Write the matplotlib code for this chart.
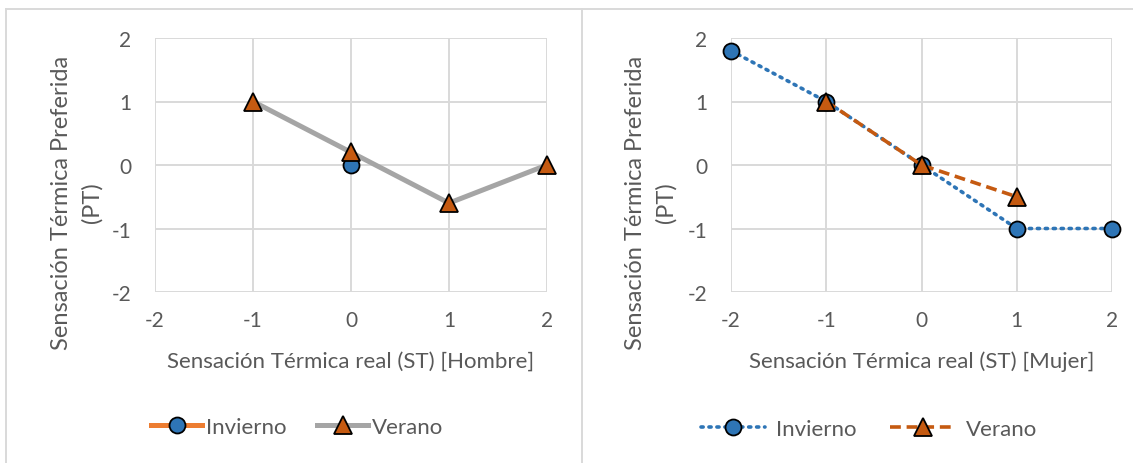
import matplotlib
matplotlib.use("Agg")
import matplotlib.pyplot as plt
from matplotlib.lines import Line2D

plt.rcParams['font.family'] = ['Lato', 'DejaVu Sans']
plt.rcParams['axes.unicode_minus'] = False

# Data
ticks = [-2, -1, 0, 1, 2]
hombre_invierno_x = [0]
hombre_invierno_y = [0]
hombre_verano_x = [-1, 0, 1, 2]
hombre_verano_y = [1, 0.2, -0.6, 0]
mujer_invierno_x = [-2, -1, 0, 1, 2]
mujer_invierno_y = [1.8, 1, 0, -1, -1]
mujer_verano_x = [-1, 0, 1]
mujer_verano_y = [1, 0, -0.5]

BLUE = '#2E75B6'
ORANGE = '#ED7D31'
DARK_ORANGE = '#C55A11'
GRAY = '#A5A5A5'
GRID = '#D9D9D9'
TEXT = '#595959'

W, H = 1133, 464
fig = plt.figure(figsize=(W / 100, H / 100), dpi=100)


def px_axes(x0, y0, x1, y1):
    return fig.add_axes([x0 / W, 1 - y1 / H, (x1 - x0) / W, (y1 - y0) / H])


# chart frames: top edge, outer left edge and the divider between panels
frame_kw = dict(transform=fig.transFigure, color=GRID, linewidth=1.4)
fig.add_artist(Line2D([6 / W, 1132 / W], [1 - 10 / H] * 2, **frame_kw))
fig.add_artist(Line2D([6 / W] * 2, [0, 1 - 10 / H], **frame_kw))
fig.add_artist(Line2D([582 / W] * 2, [0, 1 - 10 / H], **frame_kw))


def style(ax, xlabel, ylab_x):
    ax.set_xlim(-2, 2)
    ax.set_ylim(-2, 2)
    ax.set_xticks(ticks)
    ax.set_yticks(ticks)
    ax.grid(True, color=GRID, linewidth=1.4)
    ax.set_axisbelow(True)
    for s in ax.spines.values():
        s.set_visible(False)
    ax.tick_params(length=0, labelsize=15, colors=TEXT)
    ax.tick_params(axis='x', pad=13)
    ax.tick_params(axis='y', pad=17)
    ax.set_xlabel(xlabel, fontsize=16, color=TEXT, labelpad=15)
    ax.set_ylabel('Sensación Térmica Preferida\n(PT)', fontsize=17,
                  color=TEXT, linespacing=1.55)
    ax.yaxis.label.set_verticalalignment('center')
    ax.yaxis.set_label_coords(ylab_x, 0.355)
    for lab in ax.get_xticklabels() + ax.get_yticklabels():
        lab.set_clip_on(False)


mk_circle = dict(marker='o', markersize=11.5, markerfacecolor=BLUE,
                 markeredgecolor='black', markeredgewidth=1.3)
mk_tri = dict(marker='^', markersize=13, markerfacecolor=DARK_ORANGE,
              markeredgecolor='black', markeredgewidth=1.3)

# Hombre
ax1 = px_axes(155, 39, 547, 293)
ax1.plot(hombre_invierno_x, hombre_invierno_y, color=ORANGE, linewidth=3.6,
         clip_on=False, zorder=3, **mk_circle)
ax1.plot(hombre_verano_x, hombre_verano_y, color=GRAY, linewidth=3.6,
         clip_on=False, zorder=4, **mk_tri)
style(ax1, 'Sensación Térmica real (ST) [Hombre]', -0.2)
h1 = [Line2D([], [], color=ORANGE, linewidth=3.6, **mk_circle),
      Line2D([], [], color=GRAY, linewidth=3.6, **mk_tri)]
fig.legend(h1, ['Invierno', 'Verano'], loc='center',
           bbox_to_anchor=(297 / W, 1 - 428 / H), ncol=2, frameon=False,
           fontsize=16, labelcolor=TEXT, handlelength=2.3,
           handletextpad=0.15, columnspacing=1.4)

# Mujer
ax2 = px_axes(731, 39, 1112, 293)
ax2.plot(mujer_invierno_x, mujer_invierno_y, color=BLUE, linewidth=2.6,
         linestyle=(0, (0.6, 1.6)), dash_capstyle='round', clip_on=False,
         zorder=3, **mk_circle)
ax2.plot(mujer_verano_x, mujer_verano_y, color=DARK_ORANGE, linewidth=2.6,
         linestyle=(0, (3, 1.6)), clip_on=False, zorder=4, **mk_tri)
style(ax2, 'Sensación Térmica real (ST) [Mujer]', -0.21)
h2 = [Line2D([], [], color=BLUE, linewidth=2.6, linestyle=(0, (0.6, 1.6)),
             dash_capstyle='round', **mk_circle),
      Line2D([], [], color=DARK_ORANGE, linewidth=2.6,
             linestyle=(0, (3, 1.6)), **mk_tri)]
fig.legend(h2, ['Invierno', 'Verano'], loc='center',
           bbox_to_anchor=(869 / W, 1 - 430 / H), ncol=2, frameon=False,
           fontsize=16, labelcolor=TEXT, handlelength=2.9,
           handletextpad=0.5, columnspacing=1.5)

fig.savefig('out.png', dpi=100, facecolor='white')
